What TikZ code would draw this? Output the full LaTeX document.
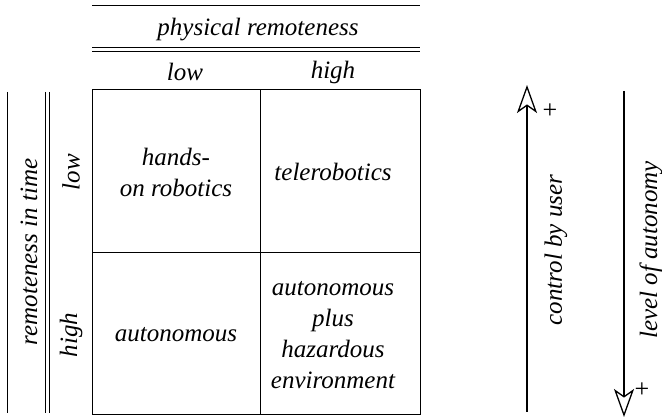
\documentclass[tikz,border=0pt]{standalone}
\usepackage{fontspec}
\setmainfont{Liberation Serif}
\newfontfamily\tnr{Liberation Serif}
\usetikzlibrary{arrows.meta}
\begin{document}
\begin{tikzpicture}[x=1pt,y=-1pt,
  lbl/.style={font=\tnr\fontsize{25}{31}\selectfont\itshape, align=center, inner sep=0pt},
  ln/.style={line width=1pt},
  plussign/.style={font=\tnr\fontsize{26}{26}\selectfont, inner sep=0pt},
  openarr/.style={line width=1.3pt, -{Stealth[open, length=28pt, width=20pt, inset=7pt, line width=1.3pt]}}]
\useasboundingbox (0,0) rectangle (662,419);
% top header
\coordinate (t1) at (92,6); \coordinate (t2) at (420,6);
\draw[ln] (t1) -- (t2);
\node[lbl] (phys) at (258,30) {physical remoteness};
\coordinate (d1a) at (92,48); \coordinate (d1b) at (420,48);
\coordinate (d2a) at (92,52); \coordinate (d2b) at (420,52);
\draw[ln] (d1a) -- (d1b);
\draw[ln] (d2a) -- (d2b);
\node[lbl] (clow) at (185,72) {low};
\node[lbl] (chigh) at (333,72) {high};
% grid
\coordinate (g1) at (92,90); \coordinate (g2) at (420,415);
\draw[ln] (g1) rectangle (g2);
\coordinate (vm1) at (260,90); \coordinate (vm2) at (260,415);
\draw[ln] (vm1) -- (vm2);
\coordinate (hm1) at (92,253); \coordinate (hm2) at (420,253);
\draw[ln] (hm1) -- (hm2);
\node[lbl] (c11) at (176,172) {hands-\\on robotics};
\node[lbl] (c12) at (333,172) {telerobotics};
\node[lbl] (c21) at (176,335) {autonomous};
\node[lbl] (c22) at (333,335) {autonomous\\plus\\hazardous\\environment};
% left side
\coordinate (l1) at (7,92); \coordinate (l2) at (7,413);
\draw[ln] (l1) -- (l2);
\coordinate (l3) at (45,92); \coordinate (l4) at (45,413);
\coordinate (l5) at (49,92); \coordinate (l6) at (49,413);
\draw[ln] (l3) -- (l4);
\draw[ln] (l5) -- (l6);
\node[lbl, rotate=90] (rit) at (29,252) {remoteness in time};
\node[lbl, rotate=90] (rlow) at (71,172) {low};
\node[lbl, rotate=90] (rhigh) at (71,335) {high};
% right arrows
\coordinate (a1s) at (527,412); \coordinate (a1e) at (527,85);
\draw[openarr] (a1s) -- (a1e);
\node[plussign] (p1) at (550,111) {+};
\node[lbl, rotate=90] (cbu) at (556,250) {control by user};
\coordinate (a2s) at (624,91); \coordinate (a2e) at (624,417);
\draw[openarr] (a2s) -- (a2e);
\node[plussign] (p2) at (642,390) {+};
\node[lbl, rotate=90] (loa) at (651,250) {level of autonomy};
\end{tikzpicture}
\end{document}
